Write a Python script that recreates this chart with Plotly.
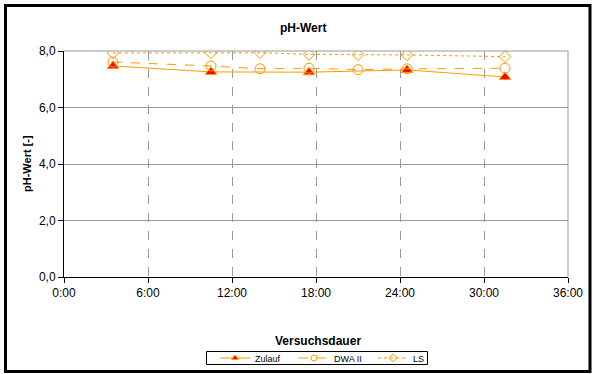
import plotly.graph_objects as go

# Data (hours of test duration, pH values)
zulauf_x = [3.5, 10.5, 17.5, 24.5, 31.5]
zulauf_y = [7.47, 7.26, 7.25, 7.33, 7.08]

dwa_x = [3.5, 10.5, 14.0, 17.5, 21.0, 24.5, 31.5]
dwa_y = [7.61, 7.47, 7.37, 7.39, 7.34, 7.37, 7.39]

ls_x = [3.5, 10.5, 14.0, 17.5, 21.0, 24.5, 31.5]
ls_y = [7.93, 7.94, 7.94, 7.88, 7.87, 7.86, 7.80]

series_names = ["Zulauf", "DWA II", "LS"]

x_tickvals = [0, 6, 12, 18, 24, 30, 36]
x_ticktext = ["0:00", "6:00", "12:00", "18:00", "24:00", "30:00", "36:00"]
y_tickvals = [0, 2, 4, 6, 8]

ORANGE = "#FF9900"
FONT = "Liberation Sans, Arial, sans-serif"

styles = [
    dict(dash="solid", symbol="triangle-up", fill="#FF0000", size=10),
    dict(dash="dash", symbol="circle", fill="rgba(255,255,255,0)", size=10),
    dict(dash="dot", symbol="diamond", fill="rgba(255,255,255,0)", size=9),
]
xs = [zulauf_x, dwa_x, ls_x]
ys = [zulauf_y, dwa_y, ls_y]

fig = go.Figure()
for name, x, y, st in zip(series_names, xs, ys, styles):
    fig.add_trace(go.Scatter(
        x=x, y=y, name=name, mode="lines+markers", showlegend=False,
        line=dict(color=ORANGE, width=1, dash=st["dash"]),
        marker=dict(symbol=st["symbol"], size=st["size"], color=st["fill"],
                    line=dict(color=ORANGE, width=1)),
    ))
# legend entries (smaller symbols, as in the reference legend)
for name, st in zip(series_names, styles):
    fig.add_trace(go.Scatter(
        x=[None], y=[None], name=name, mode="lines+markers", showlegend=True,
        line=dict(color=ORANGE, width=1, dash=st["dash"]),
        marker=dict(symbol=st["symbol"], size=6, color=st["fill"],
                    line=dict(color=ORANGE, width=1)),
    ))

L, R, T, B = 64, 25, 51, 97
W, H = 593, 374
pw = W - L - R
ph = H - T - B

def px_x(x):
    return (x - L) / pw

def px_y(y):
    return (H - B - y) / ph

fig.update_layout(
    width=W, height=H,
    margin=dict(l=L, r=R, t=T, b=B, pad=0, autoexpand=False),
    paper_bgcolor="white", plot_bgcolor="white",
    separators=",.",
    font=dict(family=FONT, size=12, color="black"),
    showlegend=True,
    legend=dict(
        orientation="h", x=px_x(215), xanchor="left",
        y=px_y(358), yanchor="middle",
        bgcolor="rgba(0,0,0,0)", borderwidth=0,
        font=dict(family=FONT, size=9, color="black"),
        itemwidth=30, tracegroupgap=0, itemsizing="trace",
        entrywidth=34,
    ),
    xaxis=dict(
        range=[0, 36], tickvals=x_tickvals, ticktext=x_ticktext,
        showgrid=True, gridcolor="#999999", griddash="dash", gridwidth=1,
        showline=True, linecolor="black", linewidth=1,
        ticks="outside", ticklen=5, tickcolor="black",
        zeroline=False, fixedrange=True, automargin=False,
    ),
    yaxis=dict(
        range=[0, 8], tickvals=y_tickvals, tickformat=".1f",
        showgrid=True, gridcolor="#999999", gridwidth=1,
        showline=True, linecolor="black", linewidth=1,
        ticks="outside", ticklen=5, tickcolor="black",
        zeroline=False, fixedrange=True, automargin=False,
    ),
    shapes=[
        dict(type="line", xref="paper", yref="paper", x0=0, x1=1, y0=1, y1=1,
             line=dict(color="#999999", width=1)),
        dict(type="line", xref="paper", yref="paper", x0=1, x1=1, y0=0, y1=1,
             line=dict(color="#999999", width=1)),
        dict(type="rect", xref="paper", yref="paper",
             x0=px_x(5.5), x1=px_x(590), y0=px_y(5.5), y1=px_y(371.5),
             line=dict(color="black", width=3)),
        # legend frame
        dict(type="rect", xref="paper", yref="paper",
             x0=px_x(206.5), x1=px_x(427.5), y0=px_y(351.5), y1=px_y(364.5),
             line=dict(color="black", width=1)),
    ],
    annotations=[
        dict(text="<b>pH-Wert</b>", xref="paper", yref="paper",
             x=px_x(303), y=px_y(28), xanchor="center", yanchor="middle",
             showarrow=False, font=dict(family=FONT, size=12)),
        dict(text="<b>pH-Wert [-]</b>", xref="paper", yref="paper",
             x=px_x(27), y=0.5, xanchor="center", yanchor="middle",
             textangle=-90, showarrow=False, font=dict(family=FONT, size=11)),
        dict(text="<b>Versuchsdauer</b>", xref="paper", yref="paper",
             x=px_x(318), y=px_y(341), xanchor="center", yanchor="middle",
             showarrow=False, font=dict(family=FONT, size=12)),
    ],
)

fig.write_html(
    "out.html",
    config={"displayModeBar": False, "staticPlot": True},
    post_script="document.body.style.margin='0';document.body.style.overflow='hidden';",
)
